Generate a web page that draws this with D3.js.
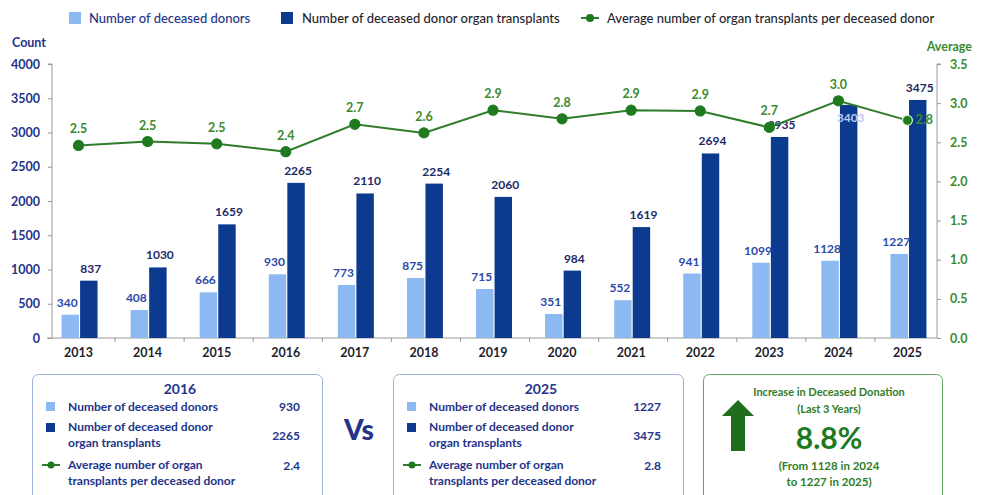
<!DOCTYPE html>
<html>
<head>
<meta charset="utf-8">
<script src="https://cdn.jsdelivr.net/npm/d3@7"></script>
<style>
  body { margin: 0; background: #fff; }
  svg { font-family: Lato, 'Open Sans', sans-serif; }
</style>
</head>
<body>
<div id="chart"></div>
<script>
const years = ['2013', '2014', '2015', '2016', '2017', '2018', '2019', '2020', '2021', '2022', '2023', '2024', '2025']
const donors = [340, 408, 666, 930, 773, 875, 715, 351, 552, 941, 1099, 1128, 1227]
const transplants = [837, 1030, 1659, 2265, 2110, 2254, 2060, 984, 1619, 2694, 2935, 3403, 3475]
const average = [2.46, 2.51, 2.48, 2.38, 2.73, 2.62, 2.91, 2.80, 2.91, 2.90, 2.69, 3.03, 2.78]
const countTicks = [0, 500, 1000, 1500, 2000, 2500, 3000, 3500, 4000]
const avgTicks = [0, 0.5, 1, 1.5, 2, 2.5, 3, 3.5]

const navy = '#0c3a8e'
const lightBlue = '#8cb9f1'
const textNavy = '#23348a'
const green = '#2f7d2a'
const greenText = '#3b8a2e'

const width = 982
const height = 495

const svg = d3
  .select('#chart')
  .append('svg')
  .attr('width', width)
  .attr('height', height)

const x = d3.scaleBand().domain(years).range([46, 944])
const inner = d3.scaleBand().domain(['donors', 'transplants']).range([-19, 17]).paddingInner(0.06)
const yLeft = d3.scaleLinear().domain([0, 4000]).range([338, 64])
const yRight = d3.scaleLinear().domain([0, 3.5]).range([338, 64])

const axisColor = '#9a9a9a'

// left axis
const leftAxis = svg
  .append('g')
  .attr('transform', 'translate(52,0)')
  .call(d3.axisLeft(yLeft).tickValues(countTicks).tickFormat(d3.format('d')).tickSize(4).tickPadding(8))
leftAxis.select('.domain').attr('stroke', axisColor).attr('d', 'M-4,64H0V338')
leftAxis.selectAll('.tick line').attr('stroke', axisColor)
leftAxis.selectAll('.tick text')
  .attr('fill', textNavy)
  .attr('font-size', 12.5)
  .attr('font-weight', 700)
  .attr('font-family', 'Lato, sans-serif')

// right axis
const rightAxis = svg
  .append('g')
  .attr('transform', 'translate(937,0)')
  .call(d3.axisRight(yRight).tickValues(avgTicks).tickFormat(d3.format('.1f')).tickSize(4).tickPadding(9))
rightAxis.select('.domain').attr('stroke', axisColor).attr('d', 'M4,64H0V338')
rightAxis.selectAll('.tick line').attr('stroke', axisColor)
rightAxis.selectAll('.tick text')
  .attr('fill', greenText)
  .attr('font-size', 12.5)
  .attr('font-weight', 700)
  .attr('font-family', 'Lato, sans-serif')

// x axis
svg.append('line')
  .attr('x1', 47).attr('x2', 937)
  .attr('y1', 338).attr('y2', 338)
  .attr('stroke', axisColor)
svg.selectAll('.x-tick')
  .data(years.slice(1))
  .enter()
  .append('line')
  .attr('x1', d => x(d)).attr('x2', d => x(d))
  .attr('y1', 338).attr('y2', 342)
  .attr('stroke', axisColor)
svg.selectAll('.x-label')
  .data(years)
  .enter()
  .append('text')
  .attr('x', d => x(d) + x.bandwidth() / 2 - 2)
  .attr('y', 357)
  .attr('text-anchor', 'middle')
  .attr('font-size', 12.5)
  .attr('font-weight', 700)
  .attr('fill', '#1f1f2e')
  .text(d => d)

svg.append('text')
  .attr('x', 12).attr('y', 47)
  .attr('font-size', 12.5).attr('font-weight', 700)
  .attr('fill', textNavy)
  .text('Count')
svg.append('text')
  .attr('x', 972).attr('y', 51)
  .attr('text-anchor', 'end')
  .attr('font-size', 12.5).attr('font-weight', 700)
  .attr('fill', greenText)
  .text('Average')

// bars
const center = d => x(d) + x.bandwidth() / 2
svg.selectAll('.donor-bar')
  .data(years)
  .enter()
  .append('rect')
  .attr('x', (d, i) => center(d) + inner('donors'))
  .attr('width', inner.bandwidth())
  .attr('y', (d, i) => yLeft(donors[i]))
  .attr('height', (d, i) => 338 - yLeft(donors[i]))
  .attr('fill', lightBlue)
svg.selectAll('.transplant-bar')
  .data(years)
  .enter()
  .append('rect')
  .attr('x', (d, i) => center(d) + inner('transplants'))
  .attr('width', inner.bandwidth())
  .attr('y', (d, i) => yLeft(transplants[i]))
  .attr('height', (d, i) => 338 - yLeft(transplants[i]))
  .attr('fill', navy)

svg.selectAll('.donor-label')
  .data(years)
  .enter()
  .append('text')
  .attr('x', d => center(d) + inner('donors') + inner.bandwidth() / 2 - 3)
  .attr('y', (d, i) => yLeft(donors[i]) - 8)
  .attr('text-anchor', 'middle')
  .attr('font-size', 12)
  .attr('font-weight', 700)
  .attr('fill', '#2c4aa8')
  .text((d, i) => donors[i])

svg.selectAll('.transplant-label')
  .data(years)
  .enter()
  .append('text')
  .attr('x', d => center(d) + inner('transplants') + inner.bandwidth() / 2 + 2)
  .attr('y', (d, i) => years[i] === '2024' ? yLeft(transplants[i]) + 17 : yLeft(transplants[i]) - 8)
  .attr('text-anchor', 'middle')
  .attr('font-size', 12)
  .attr('font-weight', 700)
  .attr('fill', (d, i) => years[i] === '2024' ? '#b9cdf5' : '#1d2a66')
  .text((d, i) => transplants[i])

// line
const lineX = d => center(d) - 2
const line = d3.line()
  .x((d, i) => lineX(years[i]))
  .y(d => yRight(d))
svg.append('path')
  .datum(average)
  .attr('d', line)
  .attr('fill', 'none')
  .attr('stroke', green)
  .attr('stroke-width', 2)

svg.selectAll('.avg-point')
  .data(average)
  .enter()
  .append('circle')
  .attr('cx', (d, i) => lineX(years[i]))
  .attr('cy', d => yRight(d))
  .attr('r', 5)
  .attr('fill', '#1f7a1f')
  .attr('stroke', (d, i) => i === average.length - 1 ? '#d8ecd3' : '#1f7a1f')
  .attr('stroke-width', 1.2)

svg.selectAll('.avg-label')
  .data(average)
  .enter()
  .append('text')
  .attr('x', (d, i) => i === average.length - 1 ? lineX(years[i]) + 8 : lineX(years[i]))
  .attr('y', (d, i) => i === average.length - 1 ? yRight(d) + 4 : yRight(d) - 12)
  .attr('text-anchor', (d, i) => i === average.length - 1 ? 'start' : 'middle')
  .attr('font-size', 12.5)
  .attr('font-weight', 700)
  .attr('fill', greenText)
  .text(d => d3.format('.1f')(d))

// top legend
const legend = svg.append('g').attr('font-size', 13).attr('font-weight', 500)
legend.append('rect').attr('x', 69).attr('y', 12).attr('width', 12).attr('height', 12).attr('fill', lightBlue)
legend.append('text').attr('x', 89).attr('y', 23).attr('fill', textNavy).text('Number of deceased donors')
legend.append('rect').attr('x', 281).attr('y', 12).attr('width', 12).attr('height', 12).attr('fill', navy)
legend.append('text').attr('x', 302).attr('y', 23).attr('fill', '#1f1f2e').text('Number of deceased donor organ transplants')
legend.append('line').attr('x1', 581).attr('x2', 599).attr('y1', 18).attr('y2', 18).attr('stroke', green).attr('stroke-width', 2)
legend.append('circle').attr('cx', 590).attr('cy', 18).attr('r', 4).attr('fill', '#1f7a1f')
legend.append('text').attr('x', 607).attr('y', 23).attr('fill', '#1f1f2e').text('Average number of organ transplants per deceased donor')

// comparison panels
function panel(x0, w, yearIdx) {
  const g = svg.append('g').attr('transform', 'translate(' + x0 + ',0)')
  g.append('rect')
    .attr('x', 0.5).attr('y', 374.5)
    .attr('width', w).attr('height', 130)
    .attr('rx', 6)
    .attr('fill', '#fff')
    .attr('stroke', '#9fb0dc')
  g.append('text')
    .attr('x', w / 2 + 3).attr('y', 394)
    .attr('text-anchor', 'middle')
    .attr('font-size', 14).attr('font-weight', 700)
    .attr('fill', textNavy)
    .text(years[yearIdx])
  const t = g.append('g').attr('font-size', 12).attr('font-weight', 700).attr('fill', textNavy)
  t.append('rect').attr('x', 14).attr('y', 402).attr('width', 9).attr('height', 9).attr('fill', lightBlue)
  t.append('text').attr('x', 36).attr('y', 411).text('Number of deceased donors')
  t.append('text').attr('x', w - 22).attr('y', 411).attr('text-anchor', 'end').text(donors[yearIdx])
  t.append('rect').attr('x', 14).attr('y', 423).attr('width', 9).attr('height', 9).attr('fill', navy)
  t.append('text').attr('x', 36).attr('y', 431).text('Number of deceased donor')
  t.append('text').attr('x', 36).attr('y', 447).text('organ transplants')
  t.append('text').attr('x', w - 22).attr('y', 440).attr('text-anchor', 'end').text(transplants[yearIdx])
  t.append('line').attr('x1', 10).attr('x2', 28).attr('y1', 465).attr('y2', 465).attr('stroke', green).attr('stroke-width', 2)
  t.append('circle').attr('cx', 19).attr('cy', 465).attr('r', 3.5).attr('fill', '#1f7a1f')
  t.append('text').attr('x', 36).attr('y', 469).text('Average number of organ')
  t.append('text').attr('x', 36).attr('y', 485).text('transplants per deceased donor')
  t.append('text').attr('x', w - 22).attr('y', 470).attr('text-anchor', 'end').text(d3.format('.1f')(average[yearIdx]))
}
panel(32, 290, years.indexOf('2016'))
panel(393, 290, years.indexOf('2025'))

svg.append('text')
  .attr('x', 359).attr('y', 440)
  .attr('text-anchor', 'middle')
  .attr('font-size', 28).attr('font-weight', 900)
  .attr('fill', textNavy)
  .text('Vs')

// increase panel
const last = years.length - 1
const increase = (donors[last] - donors[last - 1]) / donors[last - 1] * 100
const box = svg.append('g').attr('transform', 'translate(703,0)')
box.append('rect')
  .attr('x', 0.5).attr('y', 374.5)
  .attr('width', 239).attr('height', 130)
  .attr('rx', 6)
  .attr('fill', '#fff')
  .attr('stroke', '#5fa85a')
box.append('path')
  .attr('d', 'M35,400 L51,416 L42,416 L42,451 L28,451 L28,416 L19,416 Z')
  .attr('fill', '#1e6e1e')
const bt = box.append('g').attr('text-anchor', 'middle').attr('fill', green).attr('font-weight', 700)
bt.append('text').attr('x', 126).attr('y', 396).attr('font-size', 11).text('Increase in Deceased Donation')
bt.append('text').attr('x', 126).attr('y', 413).attr('font-size', 11).text('(Last 3 Years)')
bt.append('text').attr('x', 126).attr('y', 449).attr('font-size', 30).attr('fill', '#1e7a1e').text(d3.format('.1f')(increase) + '%')
bt.append('text').attr('x', 126).attr('y', 470).attr('font-size', 11.5).text('(From ' + donors[last - 1] + ' in ' + years[last - 1])
bt.append('text').attr('x', 126).attr('y', 486).attr('font-size', 11.5).text('to ' + donors[last] + ' in ' + years[last] + ')')
</script>
</body>
</html>
